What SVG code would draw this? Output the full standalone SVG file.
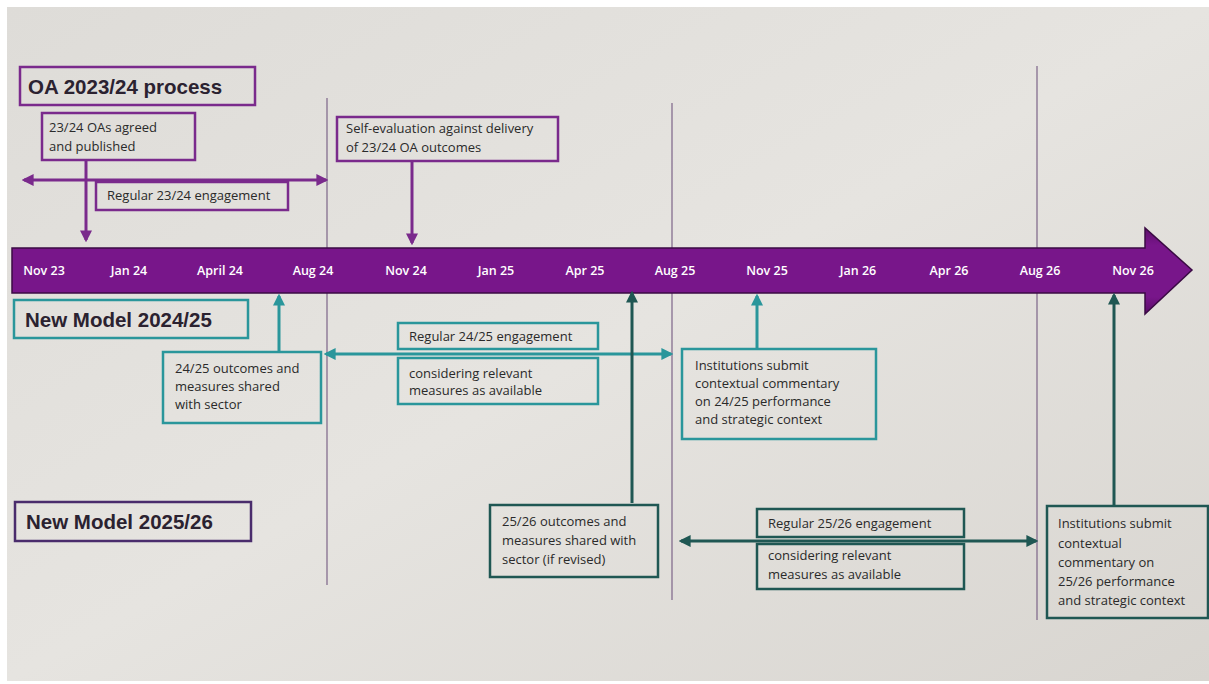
<svg xmlns="http://www.w3.org/2000/svg" width="1209" height="684" viewBox="0 0 1209 684">
  <defs>
    <linearGradient id="bg" x1="0" y1="0" x2="1" y2="1">
      <stop offset="0" stop-color="#dedcd8"/>
      <stop offset="0.5" stop-color="#e6e4e0"/>
      <stop offset="1" stop-color="#d8d5d0"/>
    </linearGradient>
    <linearGradient id="bar" x1="0" y1="0" x2="0" y2="1">
      <stop offset="0" stop-color="#5e0d6c"/>
      <stop offset="0.2" stop-color="#78168a"/>
      <stop offset="0.8" stop-color="#78168a"/>
      <stop offset="1" stop-color="#5a0c68"/>
    </linearGradient>
    <marker id="aP" viewBox="0 0 10 10" refX="8" refY="5" markerWidth="4" markerHeight="4" orient="auto-start-reverse" markerUnits="strokeWidth">
      <path d="M0,0 L10,5 L0,10 Z" fill="#7a2a8c"/>
    </marker>
    <marker id="aT" viewBox="0 0 10 10" refX="8" refY="5" markerWidth="4" markerHeight="4" orient="auto-start-reverse" markerUnits="strokeWidth">
      <path d="M0,0 L10,5 L0,10 Z" fill="#2a969b"/>
    </marker>
    <marker id="aD" viewBox="0 0 10 10" refX="8" refY="5" markerWidth="4" markerHeight="4" orient="auto-start-reverse" markerUnits="strokeWidth">
      <path d="M0,0 L10,5 L0,10 Z" fill="#1f5753"/>
    </marker>
    <style>
      .box { fill: none; stroke-width: 2.5; }
      .p { stroke: #7a2a8c; }
      .t { stroke: #2a969b; }
      .d { stroke: #1f5753; }
      .dp { stroke: #4a2c6c; }
      .txt { font-family: "Open Sans", "Liberation Sans", sans-serif; font-size: 13px; fill: #2a2a2a; }
      .title { font-family: "Liberation Sans", "Open Sans", sans-serif; font-size: 20.5px; font-weight: bold; fill: #2b2230; }
      .tick { font-family: "Open Sans", "Liberation Sans", sans-serif; font-size: 12.5px; fill: #ffffff; font-weight: 600; text-anchor: middle; }
      .vline { stroke: #7c6488; stroke-width: 1.2; }
      .conn { fill: none; stroke-width: 3; }
    </style>
  </defs>

  <rect x="0" y="0" width="1209" height="684" fill="#ffffff"/>
  <rect x="7" y="7" width="1202" height="674" fill="url(#bg)"/>

  <g id="gridlines">
    <line class="vline" x1="327" y1="98" x2="327" y2="585"/>
    <line class="vline" x1="672" y1="103" x2="672" y2="600"/>
    <line class="vline" x1="1037" y1="66" x2="1037" y2="620"/>
  </g>

  <g id="timeline">
    <path d="M12,248 L1145,248 L1145,228 L1192,270 L1145,314 L1145,293 L12,293 Z" fill="url(#bar)" stroke="#3b0b44" stroke-width="1.5"/>
    <text class="tick" x="44" y="275">Nov 23</text>
    <text class="tick" x="129" y="275">Jan 24</text>
    <text class="tick" x="220" y="275">April 24</text>
    <text class="tick" x="313" y="275">Aug 24</text>
    <text class="tick" x="406" y="275">Nov 24</text>
    <text class="tick" x="496" y="275">Jan 25</text>
    <text class="tick" x="585" y="275">Apr 25</text>
    <text class="tick" x="675" y="275">Aug 25</text>
    <text class="tick" x="767" y="275">Nov 25</text>
    <text class="tick" x="858" y="275">Jan 26</text>
    <text class="tick" x="949" y="275">Apr 26</text>
    <text class="tick" x="1040" y="275">Aug 26</text>
    <text class="tick" x="1133" y="275">Nov 26</text>
  </g>

  <g id="connectors">
    <line class="conn p" x1="86" y1="160" x2="86" y2="240" marker-end="url(#aP)"/>
    <line class="conn p" x1="24" y1="180" x2="326" y2="180" marker-start="url(#aP)" marker-end="url(#aP)"/>
    <line class="conn p" x1="412" y1="161" x2="412" y2="243" marker-end="url(#aP)"/>
    <line class="conn t" x1="279" y1="352" x2="279" y2="296" marker-end="url(#aT)"/>
    <line class="conn t" x1="326" y1="354" x2="671" y2="354" marker-start="url(#aT)" marker-end="url(#aT)"/>
    <line class="conn t" x1="757" y1="348" x2="757" y2="296" marker-end="url(#aT)"/>
    <line class="conn d" x1="632" y1="503" x2="632" y2="293" marker-end="url(#aD)"/>
    <line class="conn d" x1="681" y1="541" x2="1036" y2="541" marker-start="url(#aD)" marker-end="url(#aD)"/>
    <line class="conn d" x1="1114" y1="506" x2="1114" y2="295" marker-end="url(#aD)"/>
  </g>

  <g id="oa-title">
    <rect class="box p" x="20" y="67" width="235" height="38"/>
    <text class="title" x="28" y="94">OA 2023/24 process</text>
  </g>
  <g id="oa-agreed">
    <rect class="box p" x="42" y="113" width="153" height="47"/>
    <text class="txt" x="49" y="132">23/24 OAs agreed</text>
    <text class="txt" x="49" y="151">and published</text>
  </g>
  <g id="oa-engagement">
    <rect class="box p" x="96" y="182" width="192" height="28"/>
    <text class="txt" x="107" y="200">Regular 23/24 engagement</text>
  </g>
  <g id="oa-selfeval">
    <rect class="box p" x="337" y="117" width="221" height="44"/>
    <text class="txt" x="346" y="133">Self-evaluation against delivery</text>
    <text class="txt" x="346" y="152">of 23/24 OA outcomes</text>
  </g>

  <g id="nm2425-title">
    <rect class="box t" x="14" y="300" width="234" height="38"/>
    <text class="title" x="25" y="327">New Model 2024/25</text>
  </g>
  <g id="nm2425-shared">
    <rect class="box t" x="163" y="352" width="158" height="71"/>
    <text class="txt" x="175" y="373">24/25 outcomes and</text>
    <text class="txt" x="175" y="391">measures shared</text>
    <text class="txt" x="175" y="409">with sector</text>
  </g>
  <g id="nm2425-engagement">
    <rect class="box t" x="398" y="323" width="200" height="26"/>
    <text class="txt" x="409" y="341">Regular 24/25 engagement</text>
  </g>
  <g id="nm2425-measures">
    <rect class="box t" x="398" y="358" width="200" height="46"/>
    <text class="txt" x="409" y="378">considering relevant</text>
    <text class="txt" x="409" y="395">measures as available</text>
  </g>
  <g id="nm2425-submit">
    <rect class="box t" x="682" y="349" width="194" height="90"/>
    <text class="txt" x="695" y="370">Institutions submit</text>
    <text class="txt" x="695" y="388">contextual commentary</text>
    <text class="txt" x="695" y="406">on 24/25 performance</text>
    <text class="txt" x="695" y="424">and strategic context</text>
  </g>

  <g id="nm2526-title">
    <rect class="box dp" x="15" y="502" width="236" height="39"/>
    <text class="title" x="26" y="529">New Model 2025/26</text>
  </g>
  <g id="nm2526-shared">
    <rect class="box d" x="490" y="505" width="168" height="72"/>
    <text class="txt" x="502" y="526">25/26 outcomes and</text>
    <text class="txt" x="502" y="545">measures shared with</text>
    <text class="txt" x="502" y="564">sector (if revised)</text>
  </g>
  <g id="nm2526-engagement">
    <rect class="box d" x="757" y="509" width="207" height="28"/>
    <text class="txt" x="768" y="528">Regular 25/26 engagement</text>
  </g>
  <g id="nm2526-measures">
    <rect class="box d" x="757" y="544" width="207" height="45"/>
    <text class="txt" x="768" y="560">considering relevant</text>
    <text class="txt" x="768" y="579">measures as available</text>
  </g>
  <g id="nm2526-submit">
    <rect class="box d" x="1047" y="506" width="161" height="112"/>
    <text class="txt" x="1058" y="528">Institutions submit</text>
    <text class="txt" x="1058" y="548">contextual</text>
    <text class="txt" x="1058" y="567">commentary on</text>
    <text class="txt" x="1058" y="586">25/26 performance</text>
    <text class="txt" x="1058" y="605">and strategic context</text>
  </g>
</svg>
